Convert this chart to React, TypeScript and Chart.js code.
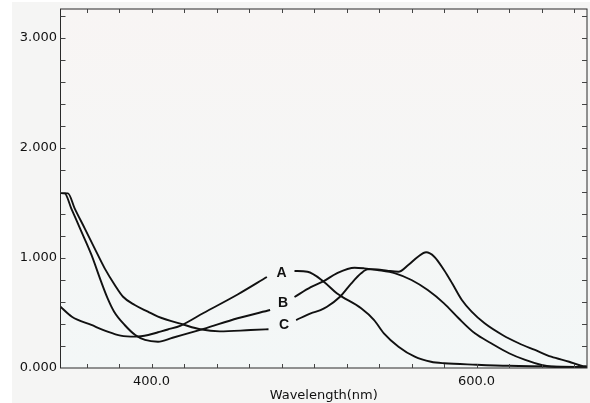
import React, { useEffect, useRef } from "react";
import { Chart, registerables } from "chart.js";

Chart.register(...registerables);

// Wavelength (nm) / absorbance readings for each curve (null = gap under the curve label)
const wlA = [344, 351, 363, 373, 381, 390, 398, 404, 410, 418, 432, 453, 471, 480, 488, 496, 506, 514, 529, 537, 543, 552, 562, 572, 580, 600, 620, 668];
const absA = [0.557, 0.466, 0.391, 0.33, 0.294, 0.285, 0.3, 0.325, 0.35, 0.386, 0.5, 0.668, 0.827, null, 0.882, 0.875, 0.785, 0.68, 0.543, 0.436, 0.315, 0.194, 0.103, 0.057, 0.043, 0.03, 0.02, 0.01];

const wlB = [344, 346.6, 350.6, 356.8, 363, 369, 373, 377, 383.5, 390, 396, 404, 413, 432, 453, 473, 480, 488, 498, 506, 514, 525, 531, 539, 550, 560, 570, 580, 589, 599, 609, 620, 630, 640, 646, 668];
const absB = [1.59, 1.588, 1.452, 1.242, 1.03, 0.785, 0.633, 0.512, 0.391, 0.3, 0.255, 0.239, 0.275, 0.355, 0.452, 0.527, null, 0.645, 0.735, 0.79, 0.861, 0.912, 0.906, 0.891, 0.861, 0.8, 0.709, 0.588, 0.452, 0.315, 0.225, 0.134, 0.073, 0.027, 0.012, 0.005];

const wlC = [344, 348.6, 352.7, 358.9, 365, 371.2, 377.4, 382.5, 389.7, 397.8, 404, 420, 430, 442, 461, 472, 480, 489, 498, 504, 508, 516, 523, 529, 533, 539, 545, 552, 558, 564, 569, 574, 580, 585, 591, 597, 605, 616, 626, 636, 646, 657, 665, 668];
const absC = [1.59, 1.588, 1.452, 1.27, 1.088, 0.906, 0.755, 0.648, 0.573, 0.512, 0.467, 0.393, 0.352, 0.333, 0.345, 0.352, null, 0.436, 0.497, 0.527, 0.557, 0.648, 0.77, 0.861, 0.897, 0.897, 0.885, 0.875, 0.936, 1.012, 1.052, 1.012, 0.891, 0.77, 0.618, 0.512, 0.406, 0.3, 0.225, 0.164, 0.103, 0.057, 0.018, 0.015];

// Axis setup
const xMin = 344;
const xMax = 668;
const yMin = 0;
const yMax = 3.264;
const xTickValues = [400, 600];
const yTickValues = [0, 1, 2, 3];
const xMinorStep = 20;
const yMinorStep = 0.2;
const xTitle = "Wavelength(nm)";

// Curve labels placed in data coordinates
const curveLabels = ["A", "B", "C"];
const labelWl = [480, 481, 481.5];
const labelAbs = [0.864, 0.59, 0.39];

function toPoints(wl: number[], ab: (number | null)[]) {
  return wl.map((x, i) => ({ x, y: ab[i] }));
}

const decorPlugin = {
  id: "decor",
  beforeDraw(chart: any) {
    const { ctx, chartArea: a, width, height } = chart;
    ctx.save();
    ctx.fillStyle = "#ffffff";
    ctx.fillRect(0, 0, width, height);
    ctx.fillStyle = "#f5f5f4";
    ctx.fillRect(12, 2, width - 12, height - 2);
    const g = ctx.createLinearGradient(0, a.top, 0, a.bottom);
    g.addColorStop(0, "#f8f5f4");
    g.addColorStop(1, "#f3f7f7");
    ctx.fillStyle = g;
    ctx.fillRect(a.left, a.top, a.right - a.left, a.bottom - a.top);
    ctx.restore();
  },
  afterDraw(chart: any) {
    const { ctx, chartArea: a, scales } = chart;
    const xs = scales.x;
    const ys = scales.y;
    ctx.save();
    ctx.strokeStyle = "#2a2a2a";
    ctx.lineWidth = 1;
    ctx.strokeRect(a.left, a.top, a.right - a.left, a.bottom - a.top);
    ctx.strokeStyle = "#444";
    ctx.beginPath();
    for (let v = Math.ceil(xMin / xMinorStep) * xMinorStep; v < xMax; v += xMinorStep) {
      const px = Math.round(xs.getPixelForValue(v)) + 0.5;
      ctx.moveTo(px, a.bottom);
      ctx.lineTo(px, a.bottom - 4);
      ctx.moveTo(px, a.top);
      ctx.lineTo(px, a.top + 4);
    }
    for (let i = 1; i * yMinorStep < yMax; i++) {
      const v = i * yMinorStep;
      const py = Math.round(ys.getPixelForValue(v)) + 0.5;
      ctx.moveTo(a.left, py);
      ctx.lineTo(a.left + 5, py);
      ctx.moveTo(a.right, py);
      ctx.lineTo(a.right - 5, py);
    }
    ctx.stroke();

    ctx.fillStyle = "#111";
    ctx.font = "bold 14px 'Liberation Sans', Arial, sans-serif";
    ctx.textAlign = "center";
    ctx.textBaseline = "middle";
    curveLabels.forEach((t, i) => {
      ctx.fillText(t, xs.getPixelForValue(labelWl[i]), ys.getPixelForValue(labelAbs[i]));
    });
    ctx.restore();
  },
};

export default function App() {
  const ref = useRef<HTMLCanvasElement | null>(null);

  useEffect(() => {
    if (!ref.current) return;
    const lineStyle = {
      borderColor: "#111",
      borderWidth: 1.9,
      pointRadius: 0,
      fill: false,
      spanGaps: false,
      cubicInterpolationMode: "monotone" as const,
    };
    const chart = new Chart(ref.current, {
      type: "line",
      data: {
        datasets: [
          { label: "A", data: toPoints(wlA, absA), ...lineStyle },
          { label: "B", data: toPoints(wlB, absB), ...lineStyle },
          { label: "C", data: toPoints(wlC, absC), ...lineStyle },
        ],
      },
      options: {
        animation: false,
        responsive: false,
        devicePixelRatio: 1,
        layout: { padding: { left: 0, right: 3, top: 9, bottom: 0 } },
        plugins: { legend: { display: false }, tooltip: { enabled: false } },
        scales: {
          x: {
            type: "linear",
            min: xMin,
            max: xMax,
            afterBuildTicks: (s: any) => {
              s.ticks = xTickValues.map((v) => ({ value: v }));
            },
            afterFit: (s: any) => {
              s.height = 35;
              s.paddingLeft = 0;
              s.paddingRight = 0;
            },
            grid: { display: false, drawTicks: false },
            border: { display: false },
            ticks: {
              padding: 6,
              autoSkip: false,
              maxRotation: 0,
              color: "#111",
              font: { family: "'DejaVu Sans', sans-serif", size: 13 },
              callback: (v: any) => Number(v).toFixed(1),
            },
            title: {
              display: true,
              text: xTitle,
              color: "#111",
              padding: 0,
              font: { family: "'DejaVu Sans', sans-serif", size: 13 },
            },
          },
          y: {
            type: "linear",
            min: yMin,
            max: yMax,
            afterBuildTicks: (s: any) => {
              s.ticks = yTickValues.map((v) => ({ value: v }));
            },
            afterFit: (s: any) => {
              s.width = 60.5;
              s.paddingTop = 0;
              s.paddingBottom = 0;
            },
            grid: { display: false, drawTicks: false },
            border: { display: false },
            ticks: {
              padding: 3.5,
              color: "#111",
              font: { family: "'DejaVu Sans', sans-serif", size: 13 },
              callback: (v: any) => Number(v).toFixed(3),
            },
          },
        },
      },
      plugins: [decorPlugin],
    });
    return () => chart.destroy();
  }, []);

  return (
    <div style={{ position: "fixed", left: 0, top: 0, width: 590, height: 403, background: "#fff" }}>
      <canvas ref={ref} width={590} height={403} style={{ display: "block" }} />
    </div>
  );
}
